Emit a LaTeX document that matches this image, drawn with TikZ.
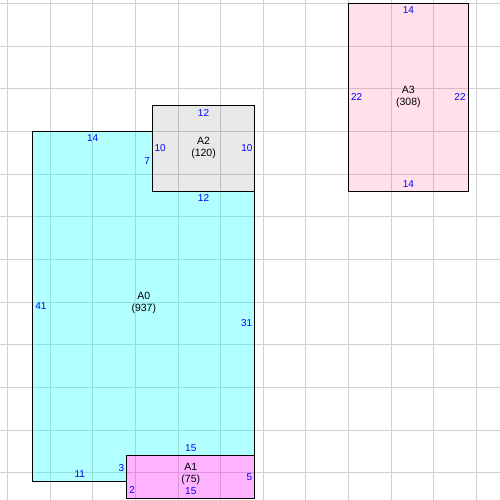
\documentclass[tikz,border=0pt]{standalone}
\usepackage{fontspec}
\setmainfont{Liberation Sans}
\usepackage{tikz}

\definecolor{areacyan}{RGB}{0,255,255}
\definecolor{areamagenta}{RGB}{255,0,255}
\definecolor{areapink}{RGB}{255,48,122}
\definecolor{gridgray}{RGB}{208,208,208}
\tikzset{
    gridline/.style={draw=gridgray, line width=0.9pt},
    outline/.style={draw=black, line width=1pt},
    edgelbl/.style={text=blue, inner xsep=2pt, inner ysep=3pt,
        font=\fontsize{10}{12}\selectfont},
    arealbl/.style={align=center, inner sep=0pt,
        font=\fontsize{10.5}{12}\selectfont},
}

\begin{document}
\begin{tikzpicture}[x=0.3cm, y=-0.3cm]
        % plan of the areas A0..A3 with the length of every edge

\useasboundingbox (-0.855,-0.387) rectangle (57.74,58.21);
\foreach \g in {0,5,...,55} {
    \draw[gridline] (\g,-0.387) -- (\g,58.21);
    \draw[gridline] (-0.855,\g) -- (57.74,\g);
}

\fill[areacyan, fill opacity=0.3] (3,15) -- (17,15) -- (17,22) -- (29,22)
    -- (29,53) -- (14,53) -- (14,56) -- (3,56) -- cycle;
\fill[areamagenta, fill opacity=0.3] (14,53) rectangle (29,58);
\fill[black, fill opacity=0.09] (17,12) rectangle (29,22);
\fill[areapink, fill opacity=0.15] (40,0) rectangle (54,22);

\draw[outline] (3,15) -- (17,15)
    node[pos=0.5, edgelbl, anchor=north] (a0n) {14}
    -- (17,22) node[pos=0.5, edgelbl, anchor=east] (a0e7) {7}
    -- (29,22) node[pos=0.5, edgelbl, anchor=north] (a0n12) {12}
    -- (29,53) node[pos=0.5, edgelbl, anchor=east] (a0e) {31}
    -- (14,53) node[pos=0.5, edgelbl, anchor=south] (a0s15) {15}
    -- (14,56) node[pos=0.5, edgelbl, anchor=east] (a0e3) {3}
    -- (3,56) node[pos=0.5, edgelbl, anchor=south] (a0s) {11}
    -- cycle node[pos=0.5, edgelbl, anchor=west] (a0w) {41};
\draw[outline] (14,56) -- (14,58)
    node[pos=0.5, edgelbl, anchor=west] (a1w) {2}
    -- (29,58) node[pos=0.5, edgelbl, anchor=south] (a1s) {15}
    -- (29,53) node[pos=0.5, edgelbl, anchor=east] (a1e) {5};
\draw[outline] (17,15) -- (17,12)
    -- (29,12) node[pos=0.5, edgelbl, anchor=north] (a2n) {12}
    -- (29,22);
\draw[outline] (40,0) -- (54,0)
    node[pos=0.5, edgelbl, anchor=north] (a3n) {14}
    -- (54,22) node[pos=0.5, edgelbl, anchor=east] (a3e) {22}
    -- (40,22) node[pos=0.5, edgelbl, anchor=south] (a3s) {14}
    -- cycle node[pos=0.5, edgelbl, anchor=west] (a3w) {22};
\node[edgelbl, anchor=west] (a2w) at (17,17) {10};
\node[edgelbl, anchor=east] (a2e) at (29,17) {10};

\node[arealbl] (a0) at (16.0,35.1) {A0\\(937)};
\node[arealbl] (a1) at (21.5,55.2) {A1\\(75)};
\node[arealbl] (a2) at (23,17) {A2\\(120)};
\node[arealbl] (a3) at (47,11) {A3\\(308)};

    \end{tikzpicture}
\end{document}
